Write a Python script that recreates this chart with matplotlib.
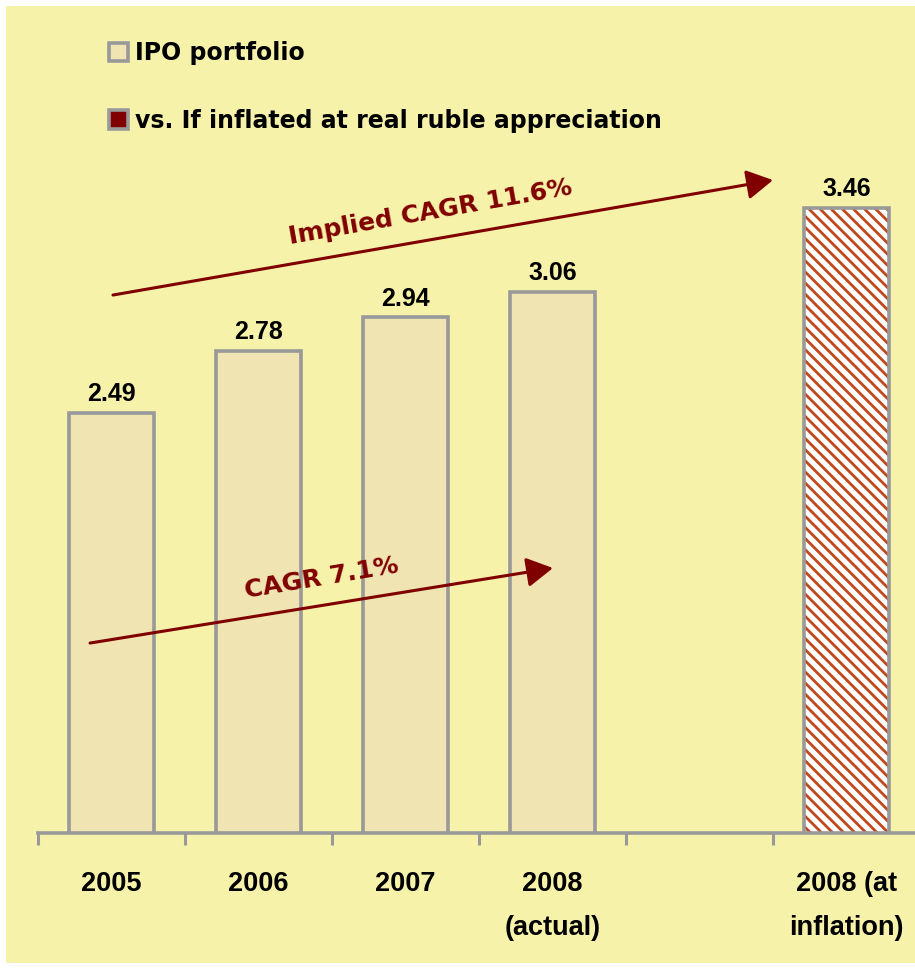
import matplotlib
matplotlib.use("Agg")
import matplotlib.pyplot as plt
from matplotlib.patches import Rectangle, Patch
import numpy as np

categories = ["2005", "2006", "2007", "2008\n(actual)", "", "2008 (at\ninflation)"]
values = [2.49, 2.78, 2.94, 3.06, None, 3.46]
value_labels = ["2.49", "2.78", "2.94", "3.06", "", "3.46"]
legend_labels = ["IPO portfolio", "vs. If inflated at real ruble appreciation"]
cagr_label = "CAGR 7.1%"
implied_label = "Implied CAGR 11.6%"

BG = "#F7F2AA"
BAR_FACE = "#F0E4B2"
EDGE = "#999999"
DARKRED = "#800000"
HATCH_RED = "#C0481C"

ARIAL = ['Liberation Sans', 'DejaVu Sans']
GOTHIC = ['DejaVu Sans']
plt.rcParams['font.family'] = ARIAL
plt.rcParams['hatch.linewidth'] = 2.0

W, H = 915, 971
fig = plt.figure(figsize=(W / 100, H / 100), dpi=100)
fig.patch.set_facecolor("white")
fig.patches.append(Rectangle((6 / W, 8 / H), 1, (963 - 6) / H, transform=fig.transFigure,
                             facecolor=BG, edgecolor="none", zorder=-5))

ax = fig.add_axes([38 / W, (H - 833) / H, 882 / W, (833 - 6) / H])
ax.set_zorder(2)
ax.set_facecolor("none")
ax.set_xlim(-0.5, 5.5)
ax.set_ylim(0.5, 4.414)

x = np.arange(len(categories))
bw = 0.58
for i, v in enumerate(values):
    if v is None:
        continue
    if i < 4:
        ax.bar(x[i], v, width=bw, color=BAR_FACE, edgecolor=EDGE, linewidth=2.6, zorder=2)
    else:
        ax.bar(x[i], v, width=bw, color="white", edgecolor=HATCH_RED, hatch="\\\\\\",
               linewidth=0, zorder=2)
        ax.bar(x[i], v, width=bw, fill=False, edgecolor=EDGE, linewidth=2.6, zorder=3)
    ax.annotate(value_labels[i], (x[i], v), xytext=(0, 5), textcoords="offset points",
                ha="center", va="bottom", fontsize=18, fontweight="bold", color="black",
                family=ARIAL)

for s in ["top", "right", "left"]:
    ax.spines[s].set_visible(False)
ax.spines["bottom"].set_color(EDGE)
ax.spines["bottom"].set_linewidth(2.6)
ax.set_yticks([])
ax.set_xticks(x)
ax.set_xticklabels(categories, fontsize=19.5, fontweight="bold", linespacing=1.9, family=ARIAL)
ax.set_xticks(np.arange(-0.5, 6.0, 1.0), minor=True)
ax.tick_params(axis="x", which="major", length=0, pad=27)
ax.tick_params(axis="x", which="minor", length=8.5, width=2.2, color=EDGE)

# growth arrows
ax.annotate("", xy=(3.003, 1.754), xytext=(-0.146, 1.399),
            arrowprops=dict(arrowstyle="-|>,head_length=0.8,head_width=0.45", lw=2.2,
                            color=DARKRED, mutation_scale=20, shrinkA=0, shrinkB=0), zorder=4)
ax.text(1.432, 1.707, cagr_label, rotation=9.5, rotation_mode="anchor", ha="center", va="center",
        fontsize=18, fontweight="bold", color=DARKRED, zorder=4, family=GOTHIC)
ax.annotate("", xy=(4.5, 3.59), xytext=(0.01, 3.046),
            arrowprops=dict(arrowstyle="-|>,head_length=0.8,head_width=0.45", lw=2.2,
                            color=DARKRED, mutation_scale=20, shrinkA=0, shrinkB=0), zorder=4)
ax.text(2.167, 3.439, implied_label, rotation=10, rotation_mode="anchor", ha="center", va="center",
        fontsize=18, fontweight="bold", color=DARKRED, zorder=4, family=GOTHIC)

handles = [Patch(facecolor=BAR_FACE, edgecolor=EDGE, linewidth=2.6),
           Patch(facecolor=DARKRED, edgecolor=EDGE, linewidth=2.6)]
leg = fig.legend(handles, legend_labels, loc="upper left",
                 bbox_to_anchor=(109 / W, 1 - 41 / H), frameon=False,
                 prop=dict(family=GOTHIC, size=17, weight="bold"),
                 handlelength=0.8, handleheight=0.8, handletextpad=0.3,
                 labelspacing=1.85, borderpad=0, borderaxespad=0)

fig.savefig("out.png", dpi=100, facecolor=fig.get_facecolor())
